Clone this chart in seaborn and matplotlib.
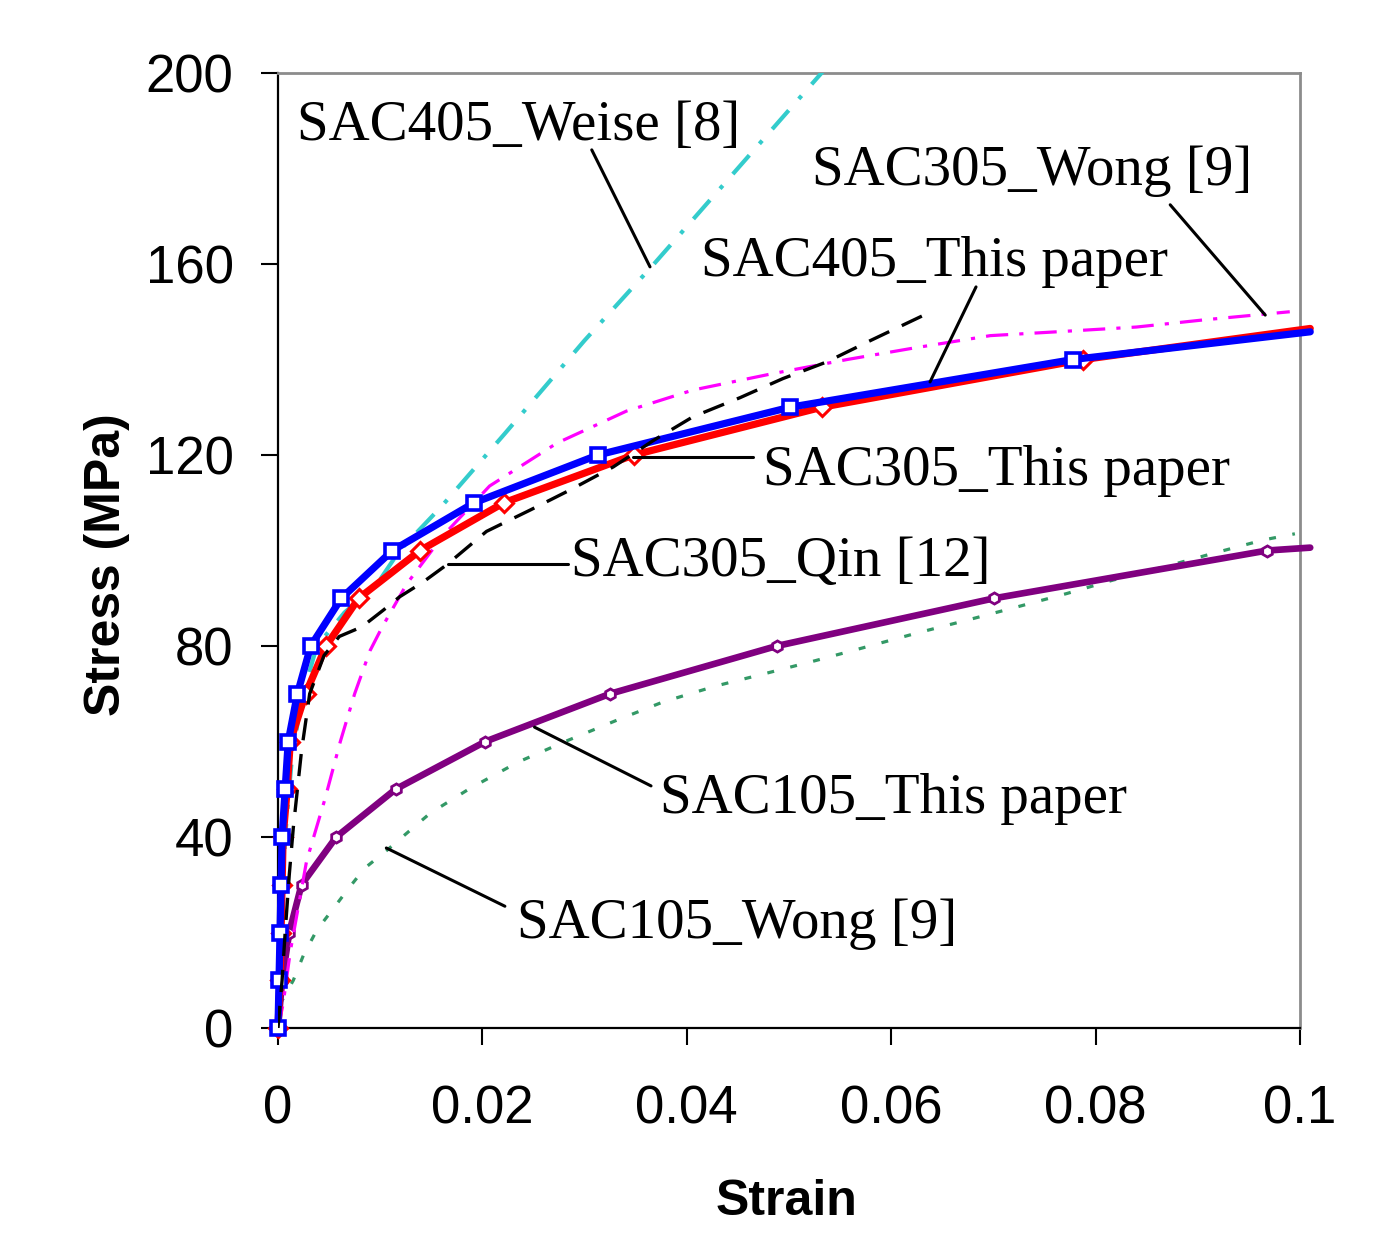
import matplotlib
matplotlib.use("Agg")
import matplotlib.pyplot as plt
import seaborn as sns
import pandas as pd

# ---------------- data ----------------
sac405_this_x = [0, 0.0001, 0.0002, 0.0003, 0.0004, 0.0007, 0.0010, 0.0019, 0.0032, 0.0062, 0.0112, 0.0192, 0.0313, 0.0501, 0.0778, 0.101]
sac405_this_y = [0, 10, 20, 30, 40, 50, 60, 70, 80, 90, 100, 110, 120, 130, 140, 145.8]

sac305_this_x = [0, 0.0002, 0.0003, 0.0004, 0.0005, 0.0009, 0.0012, 0.0027, 0.0047, 0.0079, 0.0139, 0.0221, 0.0348, 0.0532, 0.0788, 0.101]
sac305_this_y = [0, 10, 20, 30, 40, 50, 60, 70, 80, 90, 100, 110, 120, 130, 140, 146.5]

sac105_this_x = [0, 0.0004, 0.0011, 0.0023, 0.0057, 0.0115, 0.0203, 0.0325, 0.0488, 0.0701, 0.0968, 0.101]
sac105_this_y = [0, 10, 20, 30, 40, 50, 60, 70, 80, 90, 100, 100.6]

sac405_weise_x = [0, 0.0003, 0.0007, 0.0013, 0.0022, 0.0038, 0.0065, 0.0097, 0.0119, 0.0159, 0.0222, 0.0300, 0.0367, 0.0540]
sac405_weise_y = [0, 20, 40, 55, 68, 80, 87, 93, 100, 109, 124.5, 144, 159.8, 202]

sac305_wong_x = [0, 0.0005, 0.0012, 0.0028, 0.0046, 0.0061, 0.0075, 0.0090, 0.0102, 0.0126, 0.0161, 0.0207, 0.0273, 0.0341, 0.0406, 0.0483, 0.0557, 0.0622, 0.0697, 0.0762, 0.0840, 0.0906, 0.0990]
sac305_wong_y = [0, 5, 16, 35, 48, 60, 70, 79, 84, 93, 103, 113.5, 122.5, 129.2, 133.6, 137, 140, 142.4, 145, 145.8, 146.8, 148.3, 150]

sac305_qin_x = [0, 0.0004, 0.0007, 0.0011, 0.0015, 0.0019, 0.0023, 0.0031, 0.0045, 0.0060, 0.0082, 0.0103, 0.0119, 0.0142, 0.0165, 0.0204, 0.0247, 0.0286, 0.0328, 0.0367, 0.0406, 0.0452, 0.0494, 0.0537, 0.0580, 0.0636]
sac305_qin_y = [0, 10, 20, 32, 42, 50, 58, 70, 78, 82, 84, 87.5, 90.3, 93.4, 97, 104, 108.5, 112.7, 117.5, 123, 128, 132, 136, 139.5, 144, 149.7]

sac105_wong_x = [0, 0.0002, 0.0015, 0.0025, 0.0038, 0.0053, 0.0070, 0.0085, 0.0107, 0.0126, 0.0149, 0.0188, 0.0235, 0.0281, 0.0332, 0.0377, 0.0428, 0.0478, 0.0527, 0.0572, 0.0625, 0.0674, 0.0720, 0.0772, 0.0817, 0.0866, 0.0915, 0.0964, 0.0995]
sac105_wong_y = [0, 5, 10, 15.3, 20.5, 24.7, 29.5, 33.5, 37.3, 40.8, 45, 50.2, 55.7, 60, 64.5, 68.3, 71.6, 74.3, 77, 79.6, 82.7, 85.4, 88, 91, 93.8, 96.5, 99.4, 102.2, 103.5]

x_ticks = [0, 0.02, 0.04, 0.06, 0.08, 0.1]
x_tick_labels = ["0", "0.02", "0.04", "0.06", "0.08", "0.1"]
y_ticks = [0, 40, 80, 120, 160, 200]

labels = ["SAC405_Weise [8]", "SAC305_Wong [9]", "SAC405_This paper", "SAC305_This paper",
          "SAC305_Qin [12]", "SAC105_This paper", "SAC105_Wong [9]"]
label_pos = [(0.00186, 186.0), (0.05225, 176.5), (0.0414, 157.5), (0.04746, 113.7),
             (0.02867, 94.7), (0.03738, 45.0), (0.02339, 18.8)]
leaders = [((0.0307, 183.9), (0.0364, 159.4)),
           ((0.0873, 172.4), (0.0966, 149.3)),
           ((0.0683, 155.2), (0.0638, 135.3)),
           ((0.0347, 119.6), (0.0465, 119.6)),
           ((0.0166, 97.2), (0.0284, 97.2)),
           ((0.0251, 63.0), (0.0365, 50.7)),
           ((0.0106, 37.7), (0.0222, 25.5))]

# ---------------- style ----------------
sns.set_theme(style="white")
plt.rcParams["lines.scale_dashes"] = False
plt.rcParams["font.family"] = ["Liberation Sans", "DejaVu Sans"]

fig = plt.figure(figsize=(13.85, 12.45), dpi=100)
ax = fig.add_axes([278 / 1385, 1 - 1028 / 1245, (1300 - 278) / 1385, (1028 - 73) / 1245])


def draw(x, y, color, lw, ls, z, marker=None, ms=0, mew=0, clip=True):
    df = pd.DataFrame({"strain": x, "stress": y})
    kw = dict(color=color, lw=lw, linestyle=ls, zorder=z, sort=False, estimator=None,
              legend=False, ax=ax, clip_on=clip)
    if marker:
        kw.update(marker=marker, markersize=ms, markerfacecolor="white",
                  markeredgecolor=color, markeredgewidth=mew,
                  markevery=list(range(len(x) - 1)))
    sns.lineplot(data=df, x="strain", y="stress", **kw)


draw(sac105_wong_x, sac105_wong_y, "#339966", 2.3, (0, (5, 12)), 2)
draw(sac105_this_x, sac105_this_y, "#800080", 4.8, "-", 3, marker="h", ms=8, mew=2, clip=False)
draw(sac305_wong_x, sac305_wong_y, "#FF00FF", 2.3, (0, (16, 8, 3, 8)), 4)
draw(sac405_weise_x, sac405_weise_y, "#33CCCC", 3.0, (0, (18, 11, 3, 11)), 5)
draw(sac305_this_x, sac305_this_y, "#FF0000", 5.2, "-", 6, marker="D", ms=9, mew=2.2, clip=False)
draw(sac405_this_x, sac405_this_y, "#0000FF", 5.2, "-", 7, marker="s", ms=10.5, mew=2.6, clip=False)
draw(sac305_qin_x, sac305_qin_y, "#000000", 2.4, (0, (16, 10)), 8)

for (p0, p1) in leaders:
    ax.plot([p0[0], p1[0]], [p0[1], p1[1]], color="black", lw=2.2, zorder=9)

for txt, (tx, ty) in zip(labels, label_pos):
    ax.text(tx, ty, txt, fontsize=41, family=["Liberation Serif", "DejaVu Serif"],
            ha="left", va="baseline", color="black", zorder=10)

ax.set_xlim(0, 0.1)
ax.set_ylim(0, 200)
ax.set_xticks(x_ticks)
ax.set_xticklabels(x_tick_labels)
ax.set_yticks(y_ticks)
ax.tick_params(axis="both", which="major", direction="out", length=12, width=1.5,
               color="black", labelsize=38, labelcolor="black",
               bottom=True, left=True, top=False, right=False)
ax.tick_params(axis="x", pad=29)
ax.tick_params(axis="y", pad=20)

for s in ["left", "bottom"]:
    ax.spines[s].set_color("black")
    ax.spines[s].set_linewidth(1.6)
for s in ["top", "right"]:
    ax.spines[s].set_color("#8c8c8c")
    ax.spines[s].set_linewidth(2.0)

ax.set_xlabel("Strain", fontsize=36, fontweight="bold", color="black")
ax.set_ylabel("Stress (MPa)", fontsize=36, fontweight="bold", color="black")
ax.xaxis.set_label_coords((787 - 278) / 1022, (1028 - 1179) / 955)
ax.yaxis.set_label_coords((130 - 278) / 1022, (1028 - 565) / 955)

fig.savefig("out.png", dpi=100)
